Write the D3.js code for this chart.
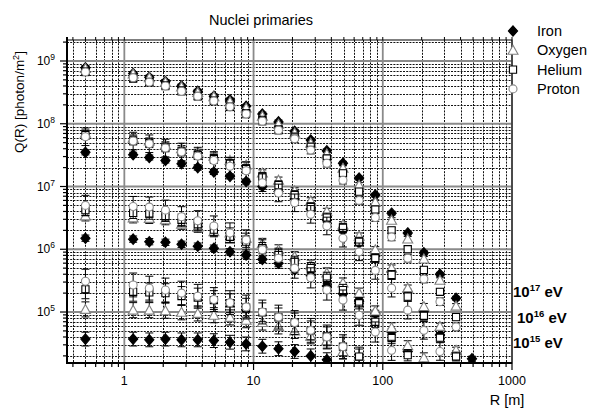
<!DOCTYPE html>
<html><head><meta charset="utf-8">
<script src="https://cdn.jsdelivr.net/npm/d3@7"></script>
<style>body{margin:0;background:#fff}svg{display:block;font-family:"Liberation Sans",Arial,Helvetica,sans-serif}</style>
</head><body><svg id="c" width="591" height="412"></svg>
<script>
// ---------- DATA ----------
const R = [0.5, 1.17, 1.56, 2.08, 2.77, 3.7, 4.93, 6.57, 8.76, 11.7, 15.6, 20.8, 27.7, 36.9, 49.2, 65.6, 87.5, 117, 156, 208, 277, 369, 490];

// band 1 (top)
const ironA   = [7.8e8, 6.3e8, 5.5e8, 4.7e8, 4.0e8, 3.3e8, 2.75e8, 2.4e8, 1.9e8, 1.43e8, 1.07e8, 7.6e7, 5.5e7, 3.7e7, 2.35e7, 1.36e7, 7.3e6, 3.76e6, 1.82e6, 8.8e5, 4.0e5, 1.66e5, null];
const oxygenA = [7.6e8, 6.2e8, 5.4e8, 4.6e8, 3.85e8, 3.16e8, 2.7e8, 2.24e8, 1.78e8, 1.32e8, 9.8e7, 7.1e7, 4.9e7, 3.3e7, 1.95e7, 1.05e7, 5.6e6, 2.9e6, 1.46e6, 7.0e5, 3.2e5, 1.24e5, null];
const heliumA = [6.8e8, 5.25e8, 4.6e8, 4.1e8, 3.4e8, 2.75e8, 2.34e8, 1.86e8, 1.48e8, 1.15e8, 8.1e7, 6.2e7, 4.3e7, 2.8e7, 1.62e7, 8.3e6, 4.3e6, 2.0e6, 1.0e6, 4.7e5, 2.1e5, 8.3e4, null];
const protonA = [6.7e8, 5.4e8, 4.6e8, 4.0e8, 3.3e8, 2.75e8, 2.3e8, 1.86e8, 1.43e8, 1.1e8, 7.9e7, 5.75e7, 3.8e7, 2.35e7, 1.26e7, 6.0e6, 3.2e6, 1.57e6, 7.2e5, 3.35e5, 1.46e5, 5.8e4, null];
// band 2
const ironB   = [3.5e7, 3.2e7, 2.9e7, 2.6e7, 2.3e7, 2.0e7, 1.7e7, 1.45e7, 1.2e7, 1.0e7, 8.3e6, 6.3e6, 4.4e6, 2.95e6, 2.0e6, 1.26e6, 7.8e5, 4.4e5, 2.1e5, 1.02e5, 4.3e4, 2.2e4, 1.8e4];
const oxygenB = [7.1e7, 5.9e7, 5.3e7, 4.6e7, 4.0e7, 3.5e7, 3.05e7, 2.6e7, 2.2e7, 1.64e7, 1.26e7, 8.5e6, 5.9e6, 4.0e6, 2.45e6, 1.62e6, 9.8e5, 5.0e5, 2.4e5, 1.22e5, 5.9e4, 2.45e4, null];
const heliumB = [6.6e7, 5.4e7, 4.9e7, 4.2e7, 3.6e7, 3.16e7, 2.75e7, 2.3e7, 1.9e7, 1.43e7, 1.05e7, 7.3e6, 4.7e6, 3.2e6, 2.2e6, 1.32e6, 7.2e5, 3.9e5, 1.76e5, 8.7e4, 3.9e4, 1.95e4, null];
const protonB = [6.2e7, 5.3e7, 4.8e7, 4.1e7, 3.55e7, 3.05e7, 2.6e7, 2.1e7, 1.78e7, 1.15e7, 7.9e6, 5.5e6, 3.6e6, 2.35e6, 1.5e6, 9.1e5, 4.6e5, 2.4e5, 1.07e5, 5.1e4, 2.35e4, null, null];
// band 3
const ironC   = [1.5e6, 1.45e6, 1.32e6, 1.29e6, 1.2e6, 1.12e6, 1.04e6, 9.1e5, 8.1e5, 6.9e5, 6.0e5, 4.7e5, 3.8e5, 2.6e5, 1.95e5, 1.48e5, 9.5e4, 4.8e4, 2.35e4, null, null, null, null];
const oxygenC = [3.4e6, 3.16e6, 3.1e6, 2.95e6, 2.5e6, 2.24e6, 1.9e6, 1.82e6, 1.5e6, 1.24e6, 9.8e5, 7.6e5, 5.6e5, 4.2e5, 2.9e5, 2.0e5, 1.04e5, 5.6e4, 2.9e4, 1.86e4, null, null, null];
const heliumC = [4.2e6, 3.8e6, 3.7e6, 3.4e6, 2.95e6, 2.5e6, 2.05e6, 1.58e6, 1.32e6, 1.04e6, 8.1e5, 6.3e5, 5.0e5, 3.5e5, 2.24e5, 1.38e5, 7.0e4, 3.85e4, 2.05e4, null, null, null, null];
const protonC = [5.0e6, 4.8e6, 4.7e6, 4.2e6, 3.3e6, 2.85e6, 2.35e6, 1.82e6, 1.41e6, 9.8e5, 7.2e5, 5.0e5, 3.5e5, 2.24e5, 1.55e5, 8.9e4, 4.8e4, 2.45e4, null, null, null, null, null];
// band 4 (bottom)
const ironD   = [3.7e4, 3.7e4, 3.6e4, 3.7e4, 3.6e4, 3.6e4, 3.5e4, 3.3e4, 3.1e4, 2.85e4, 2.6e4, 2.35e4, 2.0e4, 1.74e4, null, null, null, null, null, null, null, null, null];
const oxygenD = [1.1e5, 1.07e5, 1.07e5, 1.05e5, 9.9e4, 9.5e4, 8.9e4, 8.2e4, 7.4e4, 6.8e4, 5.9e4, 5.0e4, 4.1e4, 3.5e4, 2.35e4, 1.95e4, null, null, null, null, null, null, null];
const heliumD = [2.3e5, 2.1e5, 2.05e5, 2.0e5, 1.8e5, 1.7e5, 1.55e5, 1.38e5, 1.17e5, 9.9e4, 8.2e4, 6.8e4, 5.1e4, 4.1e4, 2.8e4, 1.95e4, null, null, null, null, null, null, null];
const protonD = [3.1e5, 2.7e5, 2.4e5, 2.24e5, 2.0e5, 1.78e5, 1.58e5, 1.41e5, 1.2e5, 1.0e5, 8.3e4, 6.8e4, 5.1e4, 4.0e4, 2.8e4, null, null, null, null, null, null, null, null];

// error half-widths (decades)
const errIron   = [0.03, 0.04, 0.05, 0.11];
const errOxygen = [0.04, 0.05, 0.08, 0.12];
const errHelium = [0.05, 0.07, 0.09, 0.15];
const errProton = [0.06, 0.14, 0.16, 0.19];

const species = ["Iron", "Oxygen", "Helium", "Proton"];
const energyLabels = ["17", "16", "15"];
const xTickLabels = ["1", "10", "100", "1000"];

// ---------- CHART ----------
const svg = d3.select("#c");
const L = 67, Rr = 512, T = 40, B = 363;
const x = d3.scaleLog().domain([0.36, 1000]).range([L, Rr]);
const y = d3.scaleLog().domain([1.54e4, 2.16e9]).range([B, T]);
const isMajor = v => Math.abs(Math.log10(v) - Math.round(Math.log10(v))) < 1e-6;
const px = v => Math.round(v) + 0.5;

const xt = x.ticks(), yt = y.ticks();

// grid
const g = svg.append("g");
g.selectAll(".mx").data(xt.filter(v => !isMajor(v))).join("line")
  .attr("x1", d => px(x(d))).attr("x2", d => px(x(d))).attr("y1", T).attr("y2", B)
  .attr("stroke", "#111").attr("stroke-width", 1).attr("stroke-dasharray", "2,1.2");
g.selectAll(".my").data(yt.filter(v => !isMajor(v))).join("line")
  .attr("y1", d => px(y(d))).attr("y2", d => px(y(d))).attr("x1", L).attr("x2", Rr)
  .attr("stroke", "#111").attr("stroke-width", 1).attr("stroke-dasharray", "2,1.2");
g.selectAll(".Mx").data(xt.filter(isMajor)).join("line")
  .attr("x1", d => x(d)).attr("x2", d => x(d)).attr("y1", T).attr("y2", B)
  .attr("stroke", "#8a8a8a").attr("stroke-width", 1.8);
g.selectAll(".My").data(yt.filter(isMajor)).join("line")
  .attr("y1", d => y(d)).attr("y2", d => y(d)).attr("x1", L).attr("x2", Rr)
  .attr("stroke", "#8a8a8a").attr("stroke-width", 1.8);

// symbols
const symPath = {
  Iron: "M0,-5.2L4.6,0L0,5.2L-4.6,0Z",
  Oxygen: "M0,-5L5,4L-5,4Z",
  Helium: "M-3.6,-3.6H3.6V3.6H-3.6Z",
  Proton: "M4,0A4,4 0 1,1 -4,0A4,4 0 1,1 4,0Z"
};
const symFill = {Iron: "#000", Oxygen: "#fff", Helium: "#fff", Proton: "#fff"};
const symStroke = {Iron: "#000", Oxygen: "#808080", Helium: "#000", Proton: "#8a8a8a"};

const bands = [
  {Iron: ironA, Oxygen: oxygenA, Helium: heliumA, Proton: protonA},
  {Iron: ironB, Oxygen: oxygenB, Helium: heliumB, Proton: protonB},
  {Iron: ironC, Oxygen: oxygenC, Helium: heliumC, Proton: protonC},
  {Iron: ironD, Oxygen: oxygenD, Helium: heliumD, Proton: protonD}
];
const errs = {Iron: errIron, Oxygen: errOxygen, Helium: errHelium, Proton: errProton};

svg.append("clipPath").attr("id", "clip").append("rect")
  .attr("x", L).attr("y", T).attr("width", Rr - L).attr("height", B - T);
const plot = svg.append("g").attr("clip-path", "url(#clip)");

species.forEach(sp => {
  const pts = [];
  bands.forEach((b, bi) => b[sp].forEach((v, i) => {
    if (v != null) pts.push({r: R[i], v, e: errs[sp][bi]});
  }));
  const gs = plot.append("g");
  const eb = gs.selectAll("g.eb").data(pts).join("g");
  eb.append("line").attr("x1", d => x(d.r)).attr("x2", d => x(d.r))
    .attr("y1", d => y(d.v * Math.pow(10, d.e))).attr("y2", d => y(d.v / Math.pow(10, d.e)))
    .attr("stroke", "#000").attr("stroke-width", 1);
  eb.append("line").attr("x1", d => x(d.r) - 4).attr("x2", d => x(d.r) + 4)
    .attr("y1", d => y(d.v * Math.pow(10, d.e))).attr("y2", d => y(d.v * Math.pow(10, d.e)))
    .attr("stroke", "#000").attr("stroke-width", 1);
  eb.append("line").attr("x1", d => x(d.r) - 4).attr("x2", d => x(d.r) + 4)
    .attr("y1", d => y(d.v / Math.pow(10, d.e))).attr("y2", d => y(d.v / Math.pow(10, d.e)))
    .attr("stroke", "#000").attr("stroke-width", 1);
  gs.selectAll("path").data(pts).join("path")
    .attr("d", symPath[sp])
    .attr("transform", d => `translate(${x(d.r)},${y(d.v)})`)
    .attr("fill", symFill[sp]).attr("stroke", symStroke[sp]).attr("stroke-width", 1.1);
});

// frame & ticks
svg.append("rect").attr("x", L).attr("y", T).attr("width", Rr - L).attr("height", B - T)
  .attr("fill", "none").attr("stroke", "#000").attr("stroke-width", 1);
svg.append("line").attr("x1", L).attr("x2", L).attr("y1", T - 3).attr("y2", B + 1)
  .attr("stroke", "#000").attr("stroke-width", 2);
svg.append("line").attr("x1", L - 1).attr("x2", Rr).attr("y1", B).attr("y2", B)
  .attr("stroke", "#000").attr("stroke-width", 2);
svg.selectAll(".tx").data(xt).join("line")
  .attr("x1", d => x(d)).attr("x2", d => x(d)).attr("y1", B)
  .attr("y2", d => B + (isMajor(d) ? 7 : 4)).attr("stroke", "#000").attr("stroke-width", 1.2);
svg.selectAll(".ttx").data(xt).join("line")
  .attr("x1", d => x(d)).attr("x2", d => x(d)).attr("y1", T)
  .attr("y2", T - 3).attr("stroke", "#000").attr("stroke-width", 1);
svg.selectAll(".ty").data(yt).join("line")
  .attr("y1", d => y(d)).attr("y2", d => y(d)).attr("x1", L)
  .attr("x2", d => L - (isMajor(d) ? 7 : 4)).attr("stroke", "#000").attr("stroke-width", 1.2);

// tick labels
svg.selectAll(".xl").data(xt.filter(isMajor)).join("text")
  .attr("x", d => x(d)).attr("y", 385).attr("text-anchor", "middle")
  .attr("font-size", 12.5).text((d, i) => xTickLabels[i]);
const yl = svg.selectAll(".yl").data(yt.filter(isMajor)).join("text")
  .attr("x", 55).attr("y", d => y(d) + 4).attr("text-anchor", "end").attr("font-size", 12);
yl.append("tspan").text("10");
yl.append("tspan").attr("font-size", 8.5).attr("dy", -5).text(d => Math.round(Math.log10(d)));

// titles
svg.append("text").attr("x", 261).attr("y", 25).attr("text-anchor", "middle")
  .attr("font-size", 14.5).text("Nuclei primaries");
const yt1 = svg.append("text").attr("transform", "translate(24,102) rotate(-90)")
  .attr("text-anchor", "middle").attr("font-size", 13.5);
yt1.append("tspan").text("Q(R) [photon/m");
yt1.append("tspan").attr("font-size", 9).attr("dy", -5).text("2");
yt1.append("tspan").attr("dy", 5).text("]");
svg.append("text").attr("x", 507).attr("y", 405).attr("text-anchor", "middle")
  .attr("font-size", 14.5).text("R [m]");

// legend
species.forEach((sp, i) => {
  const ly = 31 + i * 19.3;
  svg.append("path").attr("d", symPath[sp]).attr("transform", `translate(${Rr + 1},${ly})`)
    .attr("fill", symFill[sp]).attr("stroke", symStroke[sp]).attr("stroke-width", 1.1);
  svg.append("text").attr("x", 537).attr("y", ly + 5).attr("font-size", 14.5).text(sp);
});

// energy labels
const ePos = [[513, 297], [517, 323], [513, 348]];
energyLabels.forEach((e, i) => {
  const t = svg.append("text").attr("x", ePos[i][0]).attr("y", ePos[i][1])
    .attr("font-size", 15).attr("font-weight", "bold");
  t.append("tspan").text("10");
  t.append("tspan").attr("font-size", 9.5).attr("dy", -6).text(e);
  t.append("tspan").attr("dy", 6).text(" eV");
});
</script></body></html>
